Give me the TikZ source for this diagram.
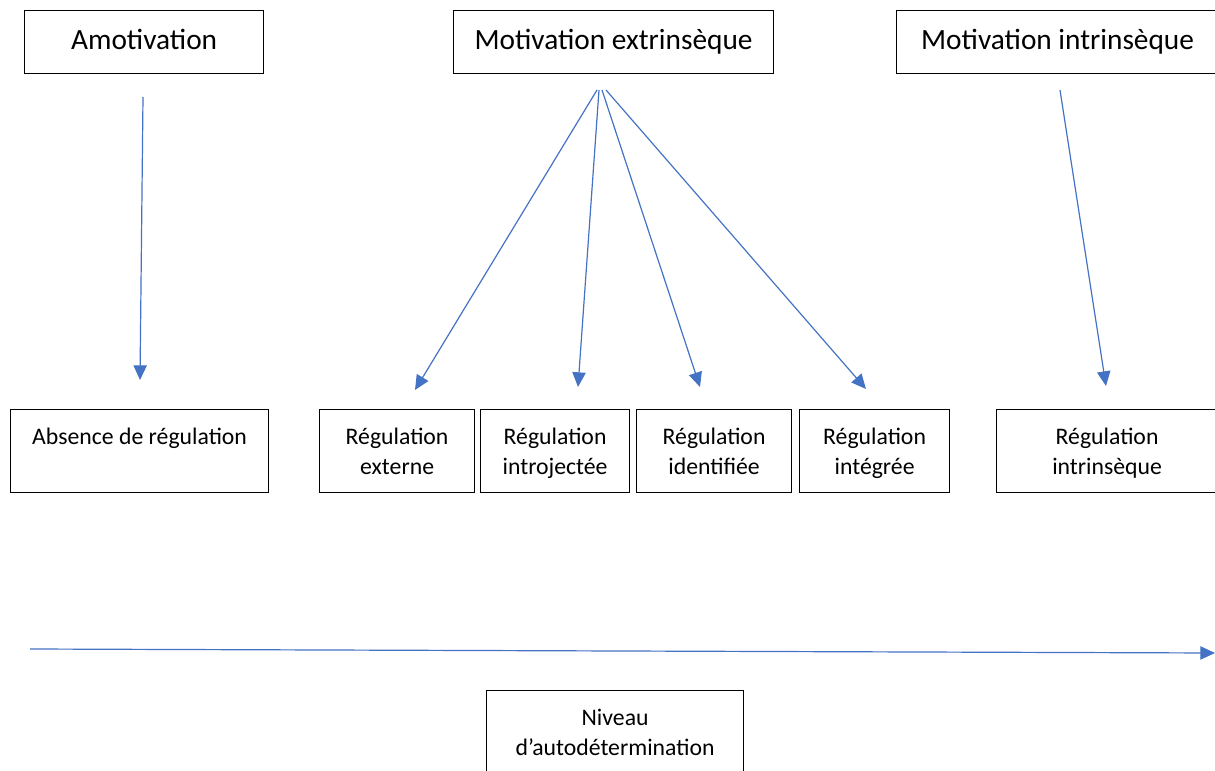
\documentclass[tikz,border=0pt]{standalone}
\usepackage{fontspec}
\setmainfont{Carlito}
\usetikzlibrary{arrows.meta}
\tikzset{
  bx/.style={draw=black, line width=0.9pt, inner sep=0pt, anchor=north west},
  ttl/.style={font=\fontsize{22}{26}\selectfont, text height=15.5pt, text depth=4.5pt},
  conn/.style={draw={rgb,255:red,68;green,114;blue,196}, line width=0.9pt, -{Triangle[length=11pt,width=10pt]}},
}
\newcommand{\boxtxt}[3]{\parbox[t][#2][t]{#1}{\centering\vspace{14pt}#3}}
\begin{document}
\begin{tikzpicture}[x=0.75pt,y=-0.75pt]
\useasboundingbox (0,0) rectangle (1215,771);
\clip (0,0) rectangle (1215,771);
% top boxes
\node[bx, ttl, minimum width=179.25pt, minimum height=47.25pt] (amo) at (24,10) {Amotivation};
\node[bx, ttl, minimum width=240pt, minimum height=47.25pt] (ext) at (453,10) {Motivation extrinsèque};
\node[bx, ttl, minimum width=241.5pt, minimum height=47.25pt] (int) at (896,10) {Motivation intrinsèque};
% middle boxes
\begin{scope}[font=\fontsize{17.8}{22.5}\selectfont]
\node[bx] (abs) at (10,409) {\boxtxt{193.5pt}{62.25pt}{Absence de régulation}};
\node[bx] (rext) at (319,409) {\boxtxt{116.25pt}{62.25pt}{Régulation\\externe}};
\node[bx] (rintro) at (480,409) {\boxtxt{111.75pt}{62.25pt}{Régulation\\introjectée}};
\node[bx] (rident) at (636,409) {\boxtxt{116.25pt}{62.25pt}{Régulation\\identifiée}};
\node[bx] (rinteg) at (799,409) {\boxtxt{112.5pt}{62.25pt}{Régulation\\intégrée}};
\node[bx] (rintr) at (996,409) {\boxtxt{165.75pt}{62.25pt}{Régulation\\intrinsèque}};
\node[bx] (niv) at (486,690) {\boxtxt{192.75pt}{82.5pt}{Niveau\\d’autodétermination}};
\end{scope}
% connector endpoints
\coordinate (a0) at (143,97);   \coordinate (a1) at (140,380);
\coordinate (e1) at (597,90);   \coordinate (t1) at (415,390);
\coordinate (e2) at (599,90);   \coordinate (t2) at (578,387);
\coordinate (e3) at (602,90);   \coordinate (t3) at (700,387);
\coordinate (e4) at (606,90);   \coordinate (t4) at (866,389);
\coordinate (i0) at (1060,90);  \coordinate (i1) at (1106,386);
\coordinate (h0) at (30,649);   \coordinate (h1) at (1215,653);
\draw[conn] (a0) -- (a1);
\draw[conn] (e1) -- (t1);
\draw[conn] (e2) -- (t2);
\draw[conn] (e3) -- (t3);
\draw[conn] (e4) -- (t4);
\draw[conn] (i0) -- (i1);
\draw[conn] (h0) -- (h1);
\end{tikzpicture}
\end{document}
